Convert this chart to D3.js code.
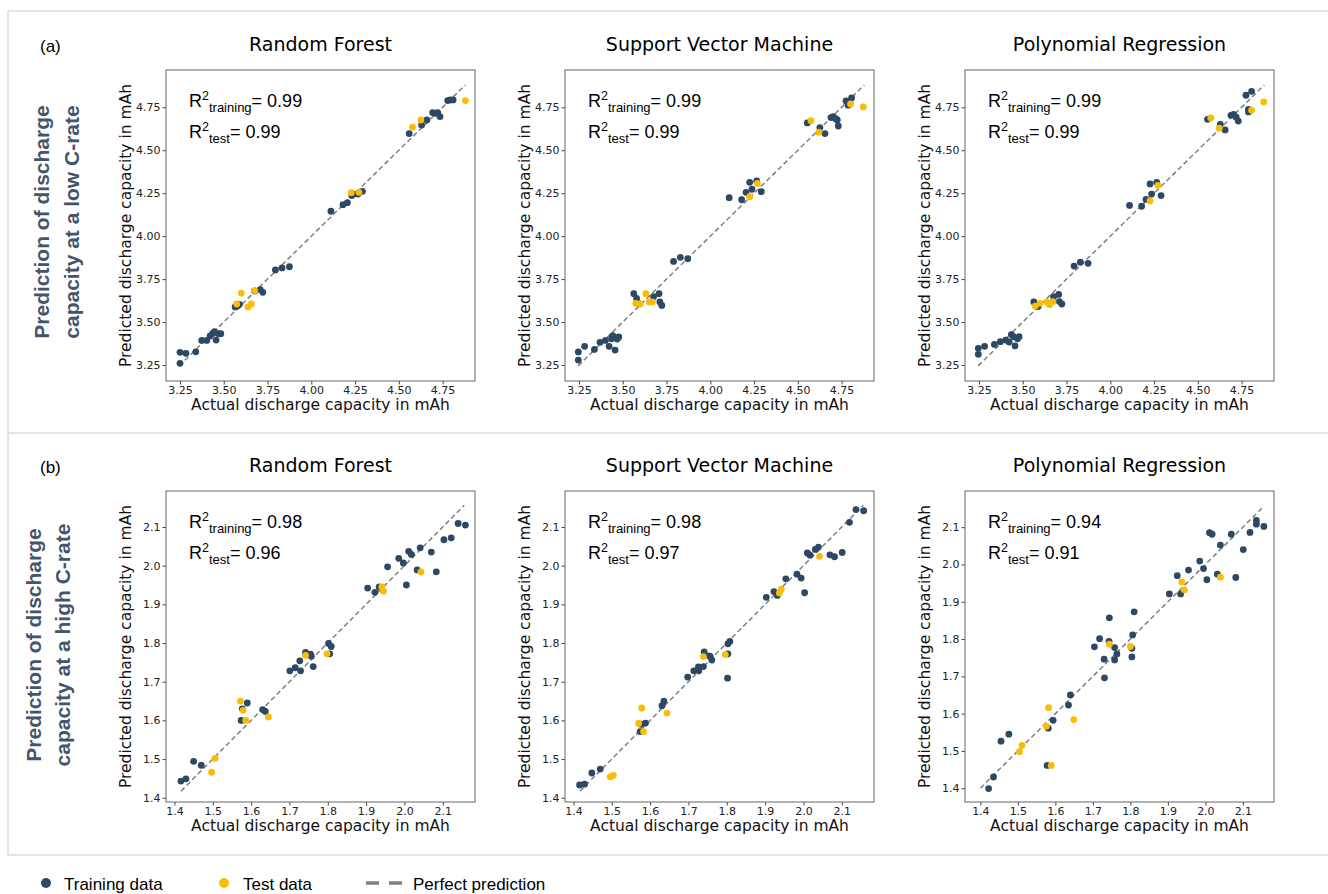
<!DOCTYPE html>
<html>
<head>
<meta charset="utf-8">
<script src="https://cdn.jsdelivr.net/npm/d3@7"></script>
<style>
  body { margin: 0; background: #fff; }
  svg { display: block; }
</style>
</head>
<body>
<div id="chart"></div>
<script>
// titles and labels
const modelNames = ['Random Forest', 'Support Vector Machine', 'Polynomial Regression'];
const rowTags = ['(a)', '(b)'];
const rowLabels = [
  ['Prediction of discharge', 'capacity at a low C-rate'],
  ['Prediction of discharge', 'capacity at a high C-rate']
];
const r2Training = [[0.99, 0.99, 0.99], [0.98, 0.98, 0.94]];
const r2Test = [[0.99, 0.99, 0.99], [0.96, 0.97, 0.91]];

// tick labels
const lowTicks = [3.25, 3.50, 3.75, 4.00, 4.25, 4.50, 4.75];
const highTicks = [1.4, 1.5, 1.6, 1.7, 1.8, 1.9, 2.0, 2.1];

// axis extents
const lowXDomain = [3.17, 4.935];
const lowYDomain = [3.157, 4.967];
const highXDomain = [1.378, 2.184];
const highYDomain = [1.389, 2.193];
const polyHighXDomain = [1.359, 2.183];
const polyHighYDomain = [1.363, 2.197];

// perfect prediction line ranges
const lowLine = [3.245, 4.88];
const highLine = [1.417, 2.156];
const polyHighLine = [1.40, 2.155];

// low C-rate: [actual, predicted]
const rfLowTrain = [[3.25,3.324],[3.25,3.26],[3.284,3.318],[3.34,3.327],[3.374,3.393],[3.403,3.393],[3.422,3.419],[3.437,3.434],[3.447,3.444],[3.456,3.395],[3.47,3.432],[3.483,3.432],[3.565,3.588],[3.578,3.593],[3.59,3.603],[3.676,3.681],[3.708,3.689],[3.723,3.673],[3.795,3.803],[3.833,3.815],[3.875,3.822],[4.112,4.145],[4.181,4.183],[4.206,4.195],[4.231,4.236],[4.244,4.245],[4.267,4.245],[4.292,4.261],[4.559,4.597],[4.63,4.647],[4.66,4.676],[4.693,4.719],[4.708,4.715],[4.722,4.719],[4.735,4.696],[4.779,4.789],[4.794,4.793],[4.81,4.793]];
const rfLowTest = [[3.574,3.605],[3.6,3.669],[3.638,3.588],[3.657,3.605],[3.676,3.683],[4.228,4.253],[4.272,4.255],[4.578,4.634],[4.626,4.676],[4.88,4.789]];
const svmLowTrain = [[3.246,3.326],[3.246,3.279],[3.282,3.359],[3.338,3.341],[3.37,3.382],[3.401,3.393],[3.422,3.359],[3.436,3.403],[3.443,3.421],[3.456,3.337],[3.468,3.401],[3.477,3.413],[3.563,3.665],[3.579,3.638],[3.59,3.609],[3.676,3.648],[3.707,3.665],[3.712,3.617],[3.723,3.597],[3.79,3.853],[3.829,3.877],[3.871,3.869],[4.108,4.224],[4.179,4.212],[4.204,4.255],[4.225,4.313],[4.238,4.273],[4.265,4.321],[4.291,4.259],[4.554,4.659],[4.626,4.632],[4.655,4.597],[4.689,4.69],[4.702,4.696],[4.716,4.684],[4.725,4.676],[4.731,4.641],[4.775,4.787],[4.787,4.762],[4.79,4.773],[4.807,4.804]];
const svmLowTest = [[3.575,3.609],[3.6,3.605],[3.632,3.665],[3.651,3.617],[3.669,3.617],[4.225,4.23],[4.269,4.307],[4.575,4.672],[4.62,4.605],[4.801,4.769],[4.874,4.752]];
const polyLowTrain = [[3.246,3.347],[3.246,3.312],[3.282,3.359],[3.338,3.37],[3.372,3.386],[3.403,3.395],[3.422,3.384],[3.435,3.427],[3.447,3.415],[3.456,3.361],[3.47,3.403],[3.479,3.415],[3.563,3.617],[3.58,3.593],[3.588,3.591],[3.676,3.648],[3.705,3.661],[3.709,3.619],[3.723,3.605],[3.793,3.826],[3.829,3.848],[3.873,3.842],[4.11,4.179],[4.179,4.174],[4.204,4.214],[4.227,4.304],[4.236,4.245],[4.265,4.313],[4.29,4.236],[4.555,4.68],[4.628,4.651],[4.656,4.618],[4.689,4.703],[4.704,4.709],[4.719,4.692],[4.731,4.67],[4.775,4.82],[4.789,4.738],[4.789,4.723],[4.807,4.843]];
const polyLowTest = [[3.571,3.593],[3.598,3.609],[3.638,3.617],[3.653,3.601],[3.672,3.619],[4.227,4.205],[4.272,4.296],[4.574,4.688],[4.622,4.628],[4.807,4.733],[4.876,4.781]];

// high C-rate: [actual, predicted]
const rfHighTrain = [[1.417,1.443],[1.43,1.449],[1.45,1.494],[1.47,1.484],[1.574,1.6],[1.577,1.63],[1.59,1.645],[1.63,1.628],[1.637,1.623],[1.701,1.728],[1.715,1.736],[1.727,1.754],[1.729,1.728],[1.742,1.776],[1.742,1.772],[1.755,1.771],[1.757,1.766],[1.762,1.739],[1.802,1.799],[1.805,1.772],[1.809,1.791],[1.904,1.942],[1.923,1.931],[1.934,1.945],[1.956,1.997],[1.985,2.019],[1.997,2.007],[2.005,1.95],[2.011,2.037],[2.018,2.029],[2.033,1.989],[2.041,2.046],[2.07,2.035],[2.083,1.984],[2.103,2.067],[2.122,2.072],[2.14,2.109],[2.159,2.105]];
const rfHighTest = [[1.572,1.65],[1.579,1.626],[1.586,1.6],[1.645,1.609],[1.497,1.466],[1.506,1.502],[1.742,1.768],[1.798,1.772],[1.941,1.945],[1.945,1.934],[2.043,1.984]];
const svmHighTrain = [[1.416,1.433],[1.429,1.435],[1.448,1.464],[1.47,1.474],[1.574,1.571],[1.576,1.59],[1.588,1.593],[1.631,1.638],[1.636,1.65],[1.698,1.712],[1.714,1.728],[1.726,1.738],[1.727,1.728],[1.739,1.739],[1.741,1.777],[1.754,1.767],[1.757,1.765],[1.761,1.756],[1.802,1.709],[1.803,1.798],[1.803,1.772],[1.808,1.804],[1.903,1.918],[1.923,1.933],[1.932,1.923],[1.954,1.966],[1.983,1.978],[1.994,1.968],[2.003,1.93],[2.01,2.033],[2.017,2.027],[2.031,2.042],[2.039,2.048],[2.069,2.028],[2.081,2.023],[2.101,2.034],[2.12,2.112],[2.137,2.145],[2.157,2.142]];
const svmHighTest = [[1.57,1.592],[1.578,1.632],[1.583,1.571],[1.644,1.619],[1.496,1.454],[1.504,1.458],[1.739,1.765],[1.796,1.77],[1.937,1.929],[1.942,1.939],[2.042,2.024]];
const polyHighTrain = [[1.422,1.399],[1.435,1.43],[1.455,1.526],[1.476,1.545],[1.578,1.461],[1.581,1.561],[1.594,1.582],[1.635,1.623],[1.64,1.65],[1.704,1.779],[1.718,1.801],[1.73,1.746],[1.731,1.696],[1.744,1.857],[1.743,1.794],[1.758,1.777],[1.758,1.744],[1.764,1.76],[1.804,1.752],[1.804,1.775],[1.806,1.811],[1.81,1.873],[1.904,1.921],[1.925,1.97],[1.934,1.921],[1.955,1.985],[1.985,2.009],[1.995,1.989],[2.004,1.959],[2.011,2.085],[2.018,2.081],[2.032,1.974],[2.04,2.052],[2.069,2.081],[2.081,1.965],[2.101,2.04],[2.119,2.086],[2.136,2.118],[2.136,2.108],[2.156,2.102]];
const polyHighTest = [[1.504,1.498],[1.511,1.515],[1.576,1.566],[1.582,1.616],[1.589,1.461],[1.649,1.584],[1.744,1.786],[1.8,1.78],[1.937,1.953],[1.944,1.932],[2.04,1.966]];

const trainColor = '#2d4864';
const testColor = '#fbbc05';
const lineColor = '#808080';
const rowLabelColor = '#44546a';

// layout
const width = 1328, height = 894;
const plotLefts = [166, 565, 965];
const plotTops = [70, 491];
const plotW = 309, plotH = 311;

const panels = [
  {row: 0, col: 0, train: rfLowTrain, test: rfLowTest, xd: lowXDomain, yd: lowYDomain, line: lowLine, ticks: lowTicks, fmt: '.2f'},
  {row: 0, col: 1, train: svmLowTrain, test: svmLowTest, xd: lowXDomain, yd: lowYDomain, line: lowLine, ticks: lowTicks, fmt: '.2f'},
  {row: 0, col: 2, train: polyLowTrain, test: polyLowTest, xd: lowXDomain, yd: lowYDomain, line: lowLine, ticks: lowTicks, fmt: '.2f'},
  {row: 1, col: 0, train: rfHighTrain, test: rfHighTest, xd: highXDomain, yd: highYDomain, line: highLine, ticks: highTicks, fmt: '.1f'},
  {row: 1, col: 1, train: svmHighTrain, test: svmHighTest, xd: highXDomain, yd: highYDomain, line: highLine, ticks: highTicks, fmt: '.1f'},
  {row: 1, col: 2, train: polyHighTrain, test: polyHighTest, xd: polyHighXDomain, yd: polyHighYDomain, line: polyHighLine, ticks: highTicks, fmt: '.1f'}
];

const svg = d3.select('#chart').append('svg')
  .attr('width', width)
  .attr('height', height);

// row boxes
svg.append('rect')
  .attr('x', 8).attr('y', 11)
  .attr('width', 1340).attr('height', 844)
  .attr('fill', 'none')
  .attr('stroke', '#dcdcdc')
  .attr('stroke-width', 1.5);
svg.append('line')
  .attr('x1', 8).attr('x2', 1340)
  .attr('y1', 433).attr('y2', 433)
  .attr('stroke', '#dcdcdc')
  .attr('stroke-width', 1.5);

// row tags and vertical row labels
rowTags.forEach((t, i) => {
  svg.append('text')
    .attr('x', 40).attr('y', plotTops[i] - 18)
    .style('font-family', 'Liberation Sans, Arial, sans-serif')
    .style('font-size', '17px')
    .attr('fill', '#000')
    .text(t);
});
const rowLabelX = [[42, 72], [34, 63]];
const rowLabelY = [222, 645];
rowLabels.forEach((lines, i) => {
  lines.forEach((l, j) => {
    svg.append('text')
      .attr('transform', `translate(${rowLabelX[i][j] + 7},${rowLabelY[i]}) rotate(-90)`)
      .attr('text-anchor', 'middle')
      .style('font-family', 'Liberation Sans, Arial, sans-serif')
      .style('font-size', '21px')
      .style('font-weight', 'bold')
      .attr('fill', rowLabelColor)
      .text(l);
  });
});

panels.forEach(p => {
  const left = plotLefts[p.col], top = plotTops[p.row];
  const g = svg.append('g').attr('transform', `translate(${left},${top})`);

  const x = d3.scaleLinear().domain(p.xd).range([0, plotW]);
  const y = d3.scaleLinear().domain(p.yd).range([plotH, 0]);

  // title
  g.append('text')
    .attr('x', plotW / 2).attr('y', -19)
    .attr('text-anchor', 'middle')
    .style('font-family', 'DejaVu Sans, sans-serif')
    .style('font-size', '19px')
    .attr('fill', '#000')
    .text(modelNames[p.col]);

  // axes
  const xAxis = g.append('g')
    .attr('transform', `translate(0,${plotH})`)
    .call(d3.axisBottom(x).tickValues(p.ticks).tickFormat(d3.format(p.fmt)).tickSizeOuter(0).tickSize(3.5).tickPadding(2));
  const yAxis = g.append('g')
    .call(d3.axisLeft(y).tickValues(p.ticks).tickFormat(d3.format(p.fmt)).tickSizeOuter(0).tickSize(3.5).tickPadding(2));
  [xAxis, yAxis].forEach(a => {
    a.select('.domain').remove();
    a.selectAll('line').attr('stroke', '#444');
    a.selectAll('text')
      .style('font-family', 'DejaVu Sans, sans-serif')
      .style('font-size', '11px')
      .attr('fill', '#222');
  });

  // axis labels
  g.append('text')
    .attr('x', plotW / 2).attr('y', plotH + 29)
    .attr('text-anchor', 'middle')
    .style('font-family', 'DejaVu Sans, sans-serif')
    .style('font-size', '15.5px')
    .attr('fill', '#111')
    .text('Actual discharge capacity in mAh');
  g.append('text')
    .attr('transform', `translate(-35,${plotH / 2}) rotate(-90)`)
    .attr('text-anchor', 'middle')
    .style('font-family', 'DejaVu Sans, sans-serif')
    .style('font-size', '15.5px')
    .attr('fill', '#111')
    .text('Predicted discharge capacity in mAh');

  // perfect prediction
  g.append('line')
    .attr('x1', x(p.line[0])).attr('y1', y(p.line[0]))
    .attr('x2', x(p.line[1])).attr('y2', y(p.line[1]))
    .attr('stroke', lineColor)
    .attr('stroke-width', 1.5)
    .attr('stroke-dasharray', '5,3');

  // points
  g.selectAll('circle.train')
    .data(p.train)
    .enter().append('circle')
    .attr('class', 'train')
    .attr('cx', d => x(d[0]))
    .attr('cy', d => y(d[1]))
    .attr('r', 3.4)
    .attr('fill', trainColor);
  g.selectAll('circle.test')
    .data(p.test)
    .enter().append('circle')
    .attr('class', 'test')
    .attr('cx', d => x(d[0]))
    .attr('cy', d => y(d[1]))
    .attr('r', 3.4)
    .attr('fill', testColor);

  // frame
  g.append('rect')
    .attr('width', plotW).attr('height', plotH)
    .attr('fill', 'none')
    .attr('stroke', '#666')
    .attr('stroke-width', 1);

  // R^2 annotations
  const r2 = [['training', r2Training[p.row][p.col]], ['test', r2Test[p.row][p.col]]];
  r2.forEach((r, i) => {
    const t = g.append('text')
      .attr('x', 23).attr('y', 37 + i * 30.5)
      .style('font-family', 'Liberation Sans, Arial, sans-serif')
      .style('font-size', '18px')
      .attr('fill', '#000');
    t.append('tspan').text('R');
    t.append('tspan').attr('dy', -7).style('font-size', '12.5px').text('2');
    t.append('tspan').attr('dy', 12).style('font-size', '13px').text(r[0]);
    t.append('tspan').attr('dy', -5).text('= ' + d3.format('.2f')(r[1]));
  });
});

// legend
const legend = svg.append('g');
const legendFont = g => g.style('font-family', 'Liberation Sans, Arial, sans-serif').style('font-size', '17px').attr('fill', '#000');
legend.append('circle').attr('cx', 46).attr('cy', 883).attr('r', 5).attr('fill', trainColor);
legend.append('text').attr('x', 64).attr('y', 890).call(legendFont).text('Training data');
legend.append('circle').attr('cx', 224).attr('cy', 883).attr('r', 5).attr('fill', testColor);
legend.append('text').attr('x', 243).attr('y', 890).call(legendFont).text('Test data');
legend.append('line')
  .attr('x1', 366).attr('x2', 402)
  .attr('y1', 883).attr('y2', 883)
  .attr('stroke', lineColor)
  .attr('stroke-width', 3.5)
  .attr('stroke-dasharray', '13,10');
legend.append('text').attr('x', 413).attr('y', 890).call(legendFont).text('Perfect prediction');
</script>
</body>
</html>
